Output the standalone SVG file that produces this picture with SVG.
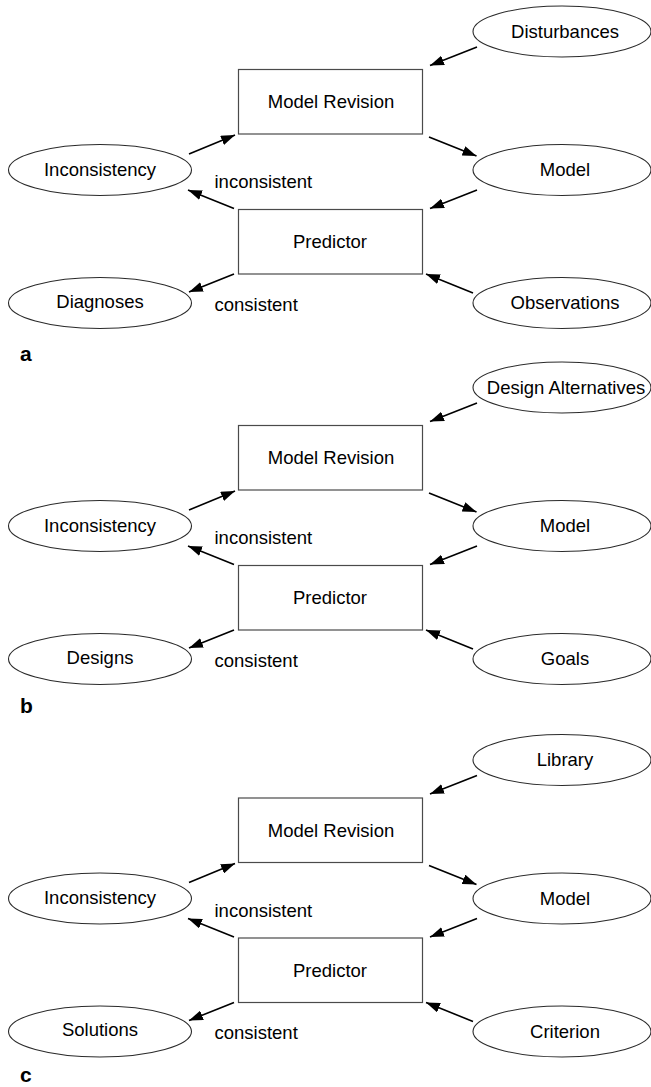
<svg xmlns="http://www.w3.org/2000/svg" width="651" height="1087" viewBox="0 0 651 1087">
<style>
  .bg { fill: #ffffff; }
  .box { fill: #ffffff; stroke: #4a4a4a; stroke-width: 1.2; }
  .ell { fill: #ffffff; stroke: #2a2a2a; stroke-width: 1.1; }
  .t { font-family: "Liberation Sans", Arial, Helvetica, sans-serif; font-size: 18.5px; fill: #000000; }
  .mid { text-anchor: middle; }
  .lab { font-family: "Liberation Sans", Arial, Helvetica, sans-serif; font-size: 21px; font-weight: bold; fill: #000000; }
  .con { fill: none; stroke: #000000; stroke-width: 1.6; marker-end: url(#ah); }
</style>
<defs>
  <marker id="ah" viewBox="0 0 14 10" refX="14" refY="5" markerWidth="14" markerHeight="10" markerUnits="userSpaceOnUse" orient="auto">
    <path d="M0,0 L14,5 L0,10 z" fill="#000000"/>
  </marker>
</defs>
<rect class="bg" x="0" y="0" width="651" height="1087"/>

<!-- Panel a -->
<g id="panel-a">
  <g id="a-model-revision"><rect class="box" x="238.5" y="69.5" width="184" height="64.5"/><text class="t mid" x="331" y="108">Model Revision</text></g>
  <g id="a-predictor"><rect class="box" x="238.5" y="209.5" width="184" height="64.5"/><text class="t mid" x="330" y="248">Predictor</text></g>
  <g id="a-disturbances"><ellipse class="ell" cx="562" cy="31.5" rx="89" ry="25.5"/><text class="t mid" x="565" y="37.5">Disturbances</text></g>
  <g id="a-model"><ellipse class="ell" cx="562" cy="170" rx="89" ry="25.5"/><text class="t mid" x="565" y="176">Model</text></g>
  <g id="a-observations"><ellipse class="ell" cx="562" cy="303" rx="89" ry="25.5"/><text class="t mid" x="565" y="309">Observations</text></g>
  <g id="a-inconsistency"><ellipse class="ell" cx="100" cy="170" rx="91.5" ry="25.5"/><text class="t mid" x="100" y="175.5">Inconsistency</text></g>
  <g id="a-diagnoses"><ellipse class="ell" cx="100" cy="303" rx="91.5" ry="25.5"/><text class="t mid" x="100" y="307.5">Diagnoses</text></g>
  <g id="a-connectors">
    <path class="con" d="M477,47 L430,65.5"/>
    <path class="con" d="M189,154 L235,135"/>
    <path class="con" d="M429,137 L476.5,156"/>
    <path class="con" d="M477,190 L430,208.5"/>
    <path class="con" d="M234,208.5 L188,190"/>
    <path class="con" d="M234,274 L189,292"/>
    <path class="con" d="M473,293 L426,274"/>
  </g>
  <g id="a-labels">
    <text class="t" x="214.5" y="188">inconsistent</text>
    <text class="t" x="214.5" y="310.5">consistent</text>
  </g>
  <text class="lab" x="20" y="361">a</text>
</g>

<!-- Panel b -->
<g id="panel-b" transform="translate(0,356)">
  <g id="b-model-revision"><rect class="box" x="238.5" y="69.5" width="184" height="64.5"/><text class="t mid" x="331" y="108">Model Revision</text></g>
  <g id="b-predictor"><rect class="box" x="238.5" y="209.5" width="184" height="64.5"/><text class="t mid" x="330" y="248">Predictor</text></g>
  <g id="b-design-alternatives"><ellipse class="ell" cx="562" cy="31.5" rx="89" ry="25.5"/><text class="t mid" x="566" y="37.5">Design Alternatives</text></g>
  <g id="b-model"><ellipse class="ell" cx="562" cy="170" rx="89" ry="25.5"/><text class="t mid" x="565" y="176">Model</text></g>
  <g id="b-goals"><ellipse class="ell" cx="562" cy="303" rx="89" ry="25.5"/><text class="t mid" x="565" y="309">Goals</text></g>
  <g id="b-inconsistency"><ellipse class="ell" cx="100" cy="170" rx="91.5" ry="25.5"/><text class="t mid" x="100" y="175.5">Inconsistency</text></g>
  <g id="b-designs"><ellipse class="ell" cx="100" cy="303" rx="91.5" ry="25.5"/><text class="t mid" x="100" y="307.5">Designs</text></g>
  <g id="b-connectors">
    <path class="con" d="M477,47 L430,65.5"/>
    <path class="con" d="M189,154 L235,135"/>
    <path class="con" d="M429,137 L476.5,156"/>
    <path class="con" d="M477,190 L430,208.5"/>
    <path class="con" d="M234,208.5 L188,190"/>
    <path class="con" d="M234,274 L189,292"/>
    <path class="con" d="M473,293 L426,274"/>
  </g>
  <g id="b-labels">
    <text class="t" x="214.5" y="188">inconsistent</text>
    <text class="t" x="214.5" y="310.5">consistent</text>
  </g>
  <text class="lab" x="20" y="357">b</text>
</g>

<!-- Panel c -->
<g id="panel-c" transform="translate(0,728.5)">
  <g id="c-model-revision"><rect class="box" x="238.5" y="69.5" width="184" height="64.5"/><text class="t mid" x="331" y="108">Model Revision</text></g>
  <g id="c-predictor"><rect class="box" x="238.5" y="209.5" width="184" height="64.5"/><text class="t mid" x="330" y="248">Predictor</text></g>
  <g id="c-library"><ellipse class="ell" cx="562" cy="31.5" rx="89" ry="25.5"/><text class="t mid" x="565" y="37.5">Library</text></g>
  <g id="c-model"><ellipse class="ell" cx="562" cy="170" rx="89" ry="25.5"/><text class="t mid" x="565" y="176">Model</text></g>
  <g id="c-criterion"><ellipse class="ell" cx="562" cy="303" rx="89" ry="25.5"/><text class="t mid" x="565" y="309">Criterion</text></g>
  <g id="c-inconsistency"><ellipse class="ell" cx="100" cy="170" rx="91.5" ry="25.5"/><text class="t mid" x="100" y="175.5">Inconsistency</text></g>
  <g id="c-solutions"><ellipse class="ell" cx="100" cy="303" rx="91.5" ry="25.5"/><text class="t mid" x="100" y="307.5">Solutions</text></g>
  <g id="c-connectors">
    <path class="con" d="M477,47 L430,65.5"/>
    <path class="con" d="M189,154 L235,135"/>
    <path class="con" d="M429,137 L476.5,156"/>
    <path class="con" d="M477,190 L430,208.5"/>
    <path class="con" d="M234,208.5 L188,190"/>
    <path class="con" d="M234,274 L189,292"/>
    <path class="con" d="M473,293 L426,274"/>
  </g>
  <g id="c-labels">
    <text class="t" x="214.5" y="188">inconsistent</text>
    <text class="t" x="214.5" y="310.5">consistent</text>
  </g>
  <text class="lab" x="20" y="353.5">c</text>
</g>
</svg>
